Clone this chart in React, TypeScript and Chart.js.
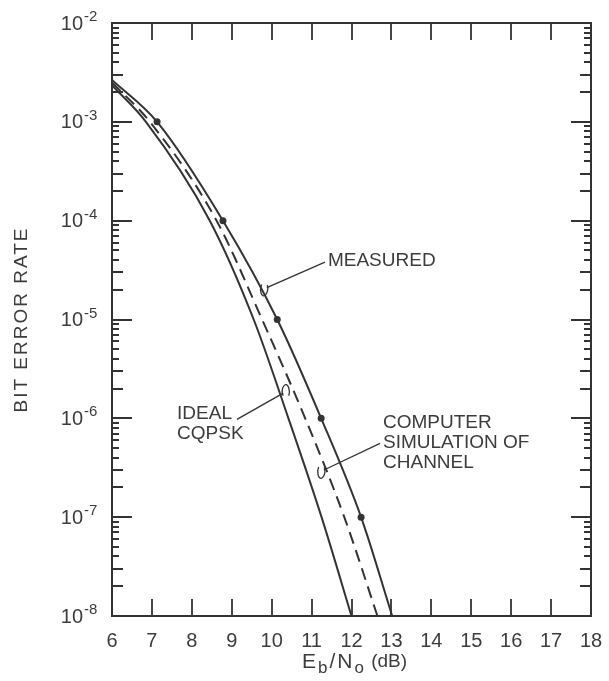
import React, { useEffect, useRef } from "react";
import { Chart, registerables } from "chart.js";

Chart.register(...registerables);

// Eb/No (dB) positions, paired with BER values
const idealX = [6, 6.85, 8.45, 9.55, 10.42, 11.25, 12.0];
const idealY = [2.35e-3, 1e-3, 1e-4, 1e-5, 1e-6, 1e-7, 1e-8];

const simX = [6, 6.95, 8.62, 9.76, 10.84, 11.82, 12.65];
const simY = [2.5e-3, 1e-3, 1e-4, 1e-5, 1e-6, 1e-7, 1e-8];

const measX = [6, 7.13, 8.78, 10.14, 11.24, 12.24, 13.02];
const measY = [2.65e-3, 1e-3, 1e-4, 1e-5, 1e-6, 1e-7, 1e-8];
const measDots = [false, true, true, true, true, true, false];

const xTicks = [6, 7, 8, 9, 10, 11, 12, 13, 14, 15, 16, 17, 18];
const yDecades = [-8, -7, -6, -5, -4, -3, -2];

const INK = "#333333";
const TEXT = "#3c3c3c";
const FONT = "'Liberation Sans', Arial, Helvetica, sans-serif";

// annotation anchors in data coordinates (x dB, y BER)
const annotations = [
  { lines: ["MEASURED"], textX: 11.41, textY: 3.9e-5, hookX: 9.88, hookY: 2.1e-5, lead: "left" },
  { lines: ["IDEAL", "CQPSK"], textX: 7.63, textY: 8.9e-7, hookX: 10.29, hookY: 1.8e-6, lead: "right" },
  { lines: ["COMPUTER", "SIMULATION OF", "CHANNEL"], textX: 12.79, textY: 5.7e-7, hookX: 11.31, hookY: 3.0e-7, lead: "left" },
];

const toPts = (xs: number[], ys: number[]) => xs.map((x, i) => ({ x, y: ys[i] }));

const framePlugin = {
  id: "framePlugin",
  afterDraw(chart: any) {
    const ctx = chart.ctx as CanvasRenderingContext2D;
    const { left, right, top, bottom } = chart.chartArea;
    const xs = chart.scales.x;
    const ys = chart.scales.y;
    ctx.save();
    ctx.strokeStyle = INK;
    ctx.lineWidth = 2;
    ctx.lineCap = "butt";
    ctx.strokeRect(left, top, right - left, bottom - top);

    ctx.beginPath();
    xTicks.forEach((v) => {
      if (v === 6 || v === 18) return;
      const px = Math.round(xs.getPixelForValue(v));
      ctx.moveTo(px, bottom);
      ctx.lineTo(px, bottom - 17);
      ctx.moveTo(px, top);
      ctx.lineTo(px, top + 17);
    });
    yDecades.forEach((e) => {
      const py = Math.round(ys.getPixelForValue(Math.pow(10, e)));
      ctx.moveTo(left, py);
      ctx.lineTo(left + 20, py);
      ctx.moveTo(right, py);
      ctx.lineTo(right - 20, py);
      if (e < -2) {
        for (let m = 2; m <= 9; m++) {
          const pm = Math.round(ys.getPixelForValue(m * Math.pow(10, e)));
          const len = m <= 3 ? 11 : 7;
          ctx.moveTo(left, pm);
          ctx.lineTo(left + len, pm);
          ctx.moveTo(right, pm);
          ctx.lineTo(right - len, pm);
        }
      }
    });
    ctx.lineWidth = 1.8;
    ctx.stroke();

    // x tick labels
    ctx.fillStyle = TEXT;
    ctx.font = `20px ${FONT}`;
    ctx.textAlign = "center";
    ctx.textBaseline = "middle";
    xTicks.forEach((v) => {
      ctx.fillText(String(v), xs.getPixelForValue(v), bottom + 25);
    });

    // y tick labels 10^e
    yDecades.forEach((e) => {
      const py = ys.getPixelForValue(Math.pow(10, e));
      ctx.font = `20px ${FONT}`;
      ctx.textAlign = "right";
      ctx.textBaseline = "middle";
      ctx.fillText("10", left - 29, py + 1);
      ctx.font = `15px ${FONT}`;
      ctx.textAlign = "left";
      ctx.fillText(String(e), left - 28, py - 6);
    });

    // y title
    ctx.save();
    ctx.translate(22, (top + bottom) / 2);
    ctx.rotate(-Math.PI / 2);
    ctx.font = `19px ${FONT}`;
    ctx.textAlign = "center";
    ctx.textBaseline = "middle";
    (ctx as any).letterSpacing = "2px";
    ctx.fillText("BIT ERROR RATE", 0, 0);
    ctx.restore();

    // x title with subscripts
    const parts = [
      { t: "E", size: 21, dy: 0 },
      { t: "b", size: 17, dy: 6 },
      { t: "/", size: 21, dy: 0 },
      { t: "N", size: 21, dy: 0 },
      { t: "o", size: 17, dy: 6 },
      { t: " (dB)", size: 19, dy: 0 },
    ];
    const gap = 2;
    let total = 0;
    parts.forEach((p) => {
      ctx.font = `${p.size}px ${FONT}`;
      total += ctx.measureText(p.t).width + gap;
    });
    let cx = (left + right) / 2 + 4 - total / 2;
    ctx.textAlign = "left";
    ctx.textBaseline = "middle";
    parts.forEach((p) => {
      ctx.font = `${p.size}px ${FONT}`;
      ctx.fillText(p.t, cx, bottom + 46 + p.dy);
      cx += ctx.measureText(p.t).width + gap;
    });

    // annotations
    annotations.forEach((a) => {
      const tx = xs.getPixelForValue(a.textX);
      const ty = ys.getPixelForValue(a.textY);
      const hx = xs.getPixelForValue(a.hookX);
      const hy = ys.getPixelForValue(a.hookY);
      ctx.font = `19px ${FONT}`;
      ctx.textAlign = "left";
      ctx.textBaseline = "middle";
      const lineH = 20;
      const n = a.lines.length;
      a.lines.forEach((l, i) => {
        ctx.fillText(l, tx, ty + (i - (n - 1) / 2) * lineH);
      });
      let sx: number, sy: number;
      if (a.lead === "right") {
        const w = ctx.measureText(a.lines[0]).width;
        sx = tx + w + 5;
        sy = ty - lineH / 2 + 6;
      } else {
        sx = tx - 3;
        sy = ty + 1;
      }
      ctx.beginPath();
      ctx.lineWidth = 1.3;
      ctx.moveTo(sx, sy);
      ctx.lineTo(hx, hy);
      ctx.stroke();
      const ang = Math.atan2(hy - sy, hx - sx);
      ctx.beginPath();
      ctx.ellipse(hx + Math.cos(ang) * 3, hy + Math.sin(ang) * 3, 7, 3.5, ang + Math.PI / 2 + 0.5, 0.3 * Math.PI, 1.7 * Math.PI);
      ctx.stroke();
    });
    ctx.restore();
  },
};

export default function App() {
  const ref = useRef<HTMLCanvasElement | null>(null);
  useEffect(() => {
    if (!ref.current) return;
    const chart = new Chart(ref.current, {
      type: "line",
      data: {
        datasets: [
          {
            label: "Ideal CQPSK",
            data: toPts(idealX, idealY),
            borderColor: INK,
            borderWidth: 2,
            pointRadius: 0,
            cubicInterpolationMode: "monotone",
            fill: false,
          },
          {
            label: "Computer simulation of channel",
            data: toPts(simX, simY),
            borderColor: INK,
            borderWidth: 2,
            borderDash: [12, 7],
            pointRadius: 0,
            cubicInterpolationMode: "monotone",
            fill: false,
          },
          {
            label: "Measured",
            data: toPts(measX, measY),
            borderColor: INK,
            backgroundColor: INK,
            borderWidth: 2,
            pointRadius: measDots.map((d) => (d ? 3.5 : 0)),
            pointBorderWidth: 0,
            pointBackgroundColor: INK,
            cubicInterpolationMode: "monotone",
            fill: false,
          },
        ],
      },
      options: {
        responsive: true,
        maintainAspectRatio: false,
        animation: false,
        layout: { padding: { left: 112, right: 18, top: 23, bottom: 65 } },
        scales: {
          x: { type: "linear", min: 6, max: 18, display: false },
          y: { type: "logarithmic", min: 1e-8, max: 1e-2, display: false },
        },
        plugins: {
          legend: { display: false },
          tooltip: { enabled: false },
        },
      },
      plugins: [framePlugin],
    } as any);
    return () => chart.destroy();
  }, []);
  return (
    <div style={{ position: "fixed", left: 0, top: 0, width: 609, height: 681, background: "#ffffff" }}>
      <canvas ref={ref} />
    </div>
  );
}
